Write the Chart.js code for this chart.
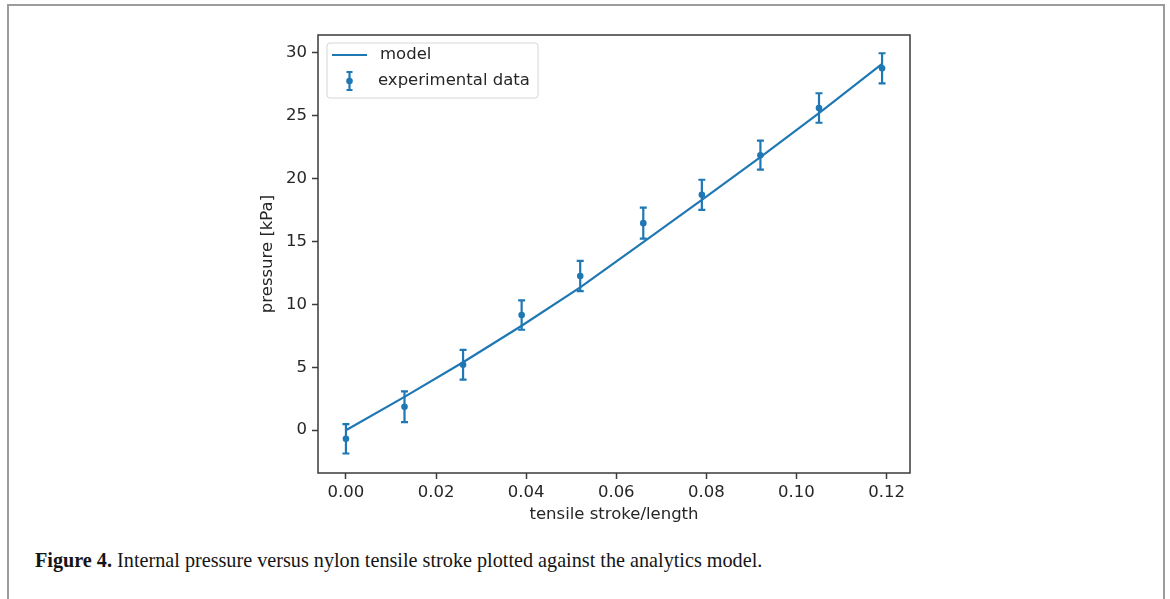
<!DOCTYPE html>
<html>
<head>
<meta charset="utf-8">
<script src="https://cdn.jsdelivr.net/npm/chart.js@4.4.1/dist/chart.umd.min.js"></script>
<style>
  html, body { margin: 0; padding: 0; background: #fff; }
  body { width: 1170px; height: 599px; position: relative; overflow: hidden; }
  #frame { position: absolute; left: 7px; top: 4px; width: 1154px; height: 640px; border: 2px solid #9c9c9c; }
  #wrap { position: absolute; left: 0; top: 0; width: 1170px; height: 540px; }
  #caption { position: absolute; left: 35px; top: 548px; font-family: "Liberation Serif", serif; font-size: 20.2px; line-height: 24px; color: #151515; white-space: nowrap; }
  #caption b { font-weight: bold; }
</style>
</head>
<body>
<div id="frame"></div>
<div id="wrap"><canvas id="chart" width="1170" height="540"></canvas></div>
<div id="caption"><b>Figure 4.</b> Internal pressure versus nylon tensile stroke plotted against the analytics model.</div>

<script>
// values
var strain = [0.000, 0.013, 0.026, 0.039, 0.052, 0.066, 0.079, 0.092, 0.105, 0.119];
var modelPressure = [0.0, 2.65, 5.4, 8.3, 11.35, 14.95, 18.3, 21.7, 25.2, 29.1];
var measuredPressure = [-0.68, 1.86, 5.2, 9.15, 12.25, 16.45, 18.7, 21.85, 25.6, 28.75];
var pressureError = [1.17, 1.22, 1.18, 1.17, 1.2, 1.23, 1.2, 1.15, 1.17, 1.2];
var xTicks = [0, 0.02, 0.04, 0.06, 0.08, 0.10, 0.12];
var yTicks = [0, 5, 10, 15, 20, 25, 30];

var blue = "#1f77b4";
var ink = "#262626";
var axisFont = { family: "DejaVu Sans", size: 16.5 };

function pts(xs, ys) {
    return xs.map(function (x, i) { return { x: x, y: ys[i] }; });
}

// matplotlib style error bars + closed frame + legend box
var extras = {
    id: "extras",
    afterDatasetsDraw: function (chart) {
        var ctx = chart.ctx;
        var xs = chart.scales.x, ys = chart.scales.y;
        ctx.save();
        ctx.strokeStyle = blue;
        ctx.lineWidth = 2.2;
        strain.forEach(function (x, i) {
            var px = xs.getPixelForValue(x);
            var top = ys.getPixelForValue(measuredPressure[i] + pressureError[i]);
            var bot = ys.getPixelForValue(measuredPressure[i] - pressureError[i]);
            ctx.beginPath();
            ctx.moveTo(px, top); ctx.lineTo(px, bot);
            ctx.moveTo(px - 3.5, top); ctx.lineTo(px + 3.5, top);
            ctx.moveTo(px - 3.5, bot); ctx.lineTo(px + 3.5, bot);
            ctx.stroke();
        });

        // frame
        var a = chart.chartArea;
        ctx.strokeStyle = "#3a3a3a";
        ctx.lineWidth = 1.5;
        ctx.strokeRect(a.left, a.top, a.right - a.left, a.bottom - a.top);

        // legend
        var lx = a.left + 9, ly = a.top + 8, lw = 211, lh = 55;
        ctx.fillStyle = "rgba(255,255,255,0.8)";
        ctx.strokeStyle = "#d6d6d6";
        ctx.lineWidth = 1;
        ctx.beginPath();
        ctx.roundRect(lx, ly, lw, lh, 3);
        ctx.fill(); ctx.stroke();

        var labels = chart.data.datasets.map(function (d) { return d.label; });
        ctx.font = "16.5px 'DejaVu Sans'";
        ctx.fillStyle = ink;
        ctx.textBaseline = "middle";
        ctx.fillText(labels[0], lx + 53, ly + 12);
        ctx.fillText(labels[1], lx + 51, ly + 38);

        ctx.strokeStyle = blue;
        ctx.lineWidth = 2.2;
        ctx.beginPath();
        ctx.moveTo(lx + 5, ly + 12); ctx.lineTo(lx + 40, ly + 12);
        ctx.stroke();
        var cx = lx + 22.5, cy = ly + 38;
        ctx.beginPath();
        ctx.moveTo(cx, cy - 9); ctx.lineTo(cx, cy + 9);
        ctx.moveTo(cx - 3, cy - 9); ctx.lineTo(cx + 3, cy - 9);
        ctx.moveTo(cx - 3, cy + 9); ctx.lineTo(cx + 3, cy + 9);
        ctx.stroke();
        ctx.fillStyle = blue;
        ctx.beginPath();
        ctx.arc(cx, cy, 3.3, 0, Math.PI * 2);
        ctx.fill();
        ctx.restore();
    }
};

new Chart("chart", {
    type: "scatter",
    data: {
        datasets: [{
            label: "model",
            data: pts(strain, modelPressure),
            showLine: true,
            borderColor: blue,
            borderWidth: 2.2,
            pointRadius: 0,
            tension: 0
        }, {
            label: "experimental data",
            data: pts(strain, measuredPressure),
            showLine: false,
            backgroundColor: blue,
            borderColor: blue,
            pointRadius: 3.3,
            borderWidth: 0
        }]
    },
    options: {
        responsive: false,
        animation: false,
        devicePixelRatio: 1,
        layout: { padding: { left: 250, right: 260, top: 35, bottom: 0 } },
        plugins: { legend: { display: false }, tooltip: { enabled: false } },
        scales: {
            x: {
                type: "linear",
                min: -0.0062,
                max: 0.1252,
                afterBuildTicks: function (s) { s.ticks = xTicks.map(function (v) { return { value: v }; }); },
                afterFit: function (s) { s.height = 67; },
                ticks: {
                    color: ink, font: axisFont, padding: 4, maxRotation: 0,
                    callback: function (v) { return v.toFixed(2); }
                },
                grid: { drawOnChartArea: false, drawTicks: true, tickLength: 6, color: "#3a3a3a", tickWidth: 1.5 },
                border: { display: false },
                title: { display: true, text: "tensile stroke/length", color: ink, font: axisFont, padding: { top: 0, bottom: 15 } }
            },
            y: {
                type: "linear",
                min: -3.4,
                max: 31.4,
                afterBuildTicks: function (s) { s.ticks = yTicks.map(function (v) { return { value: v }; }); },
                afterFit: function (s) { s.width = 68; },
                ticks: { color: ink, font: axisFont, padding: 5 },
                grid: { drawOnChartArea: false, drawTicks: true, tickLength: 6, color: "#3a3a3a", tickWidth: 1.5 },
                border: { display: false },
                title: { display: true, text: "pressure [kPa]", color: ink, font: axisFont, padding: { top: 8, bottom: 0 } }
            }
        }
    },
    plugins: [extras]
});
</script>
</body>
</html>
